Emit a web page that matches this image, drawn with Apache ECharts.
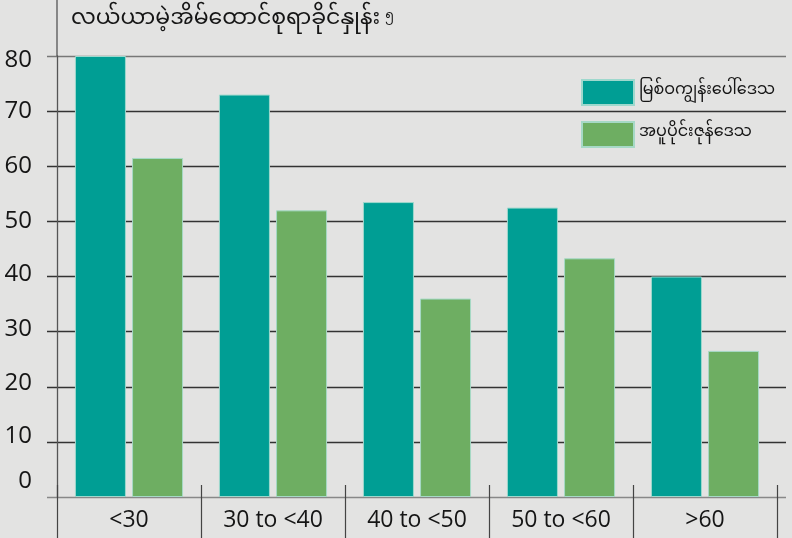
<!DOCTYPE html>
<html><head><meta charset="utf-8">
<script src="https://cdn.jsdelivr.net/npm/echarts@6/dist/echarts.min.js"></script>
<style>html,body{margin:0;padding:0;background:#e3e3e2}#c{width:792px;height:538px}</style>
</head><body><div id="c"></div>
<script>
const categories = ['<30', '30 to <40', '40 to <50', '50 to <60', '>60'];
const seriesNames = ['မြစ်ဝကျွန်းပေါ်ဒေသ', 'အပူပိုင်းဇုန်ဒေသ'];
const deltaValues = [80, 73, 53.5, 52.5, 40];
const dryZoneValues = [61.5, 52, 36, 43.3, 26.5];
const titleText = 'လယ်ယာမဲ့အိမ်ထောင်စုရာခိုင်နှုန်း';
const footnote = '၅';
const yMin = 0, yMax = 80, yStep = 10;

const FONT = '"Noto Sans Myanmar", "Myanmar Text", Padauk, "Noto Sans", "DejaVu Sans", sans-serif';
const NUMFONT = '"Open Sans", "Noto Sans", sans-serif';
const labelShift = {0: 32, 10: 12, 20: 8, 30: 4, 40: 4, 50: 0, 60: 0, 70: 0, 80: 0};

const chart = echarts.init(document.getElementById('c'), null, {renderer: 'canvas'});
const rich = {};
Object.keys(labelShift).forEach(k => {
  const s = labelShift[k];
  rich['v' + k] = {fontSize: 24, color: '#151515', fontFamily: NUMFONT,
    padding: [0, 0, s, 0]};
});
rich.v80.padding = [8, 0, 0, 0];

chart.setOption({
  backgroundColor: '#e3e3e2',
  animation: false,
  title: {
    text: '{t|' + titleText + '} {f|' + footnote + '}',
    left: 66, top: 6,
    textStyle: {
      fontWeight: 'normal',
      rich: {
        t: {fontSize: 22, fontWeight: 'normal', color: '#151515', fontFamily: FONT},
        f: {fontSize: 13, fontWeight: 'normal', color: '#151515', fontFamily: FONT, padding: [0, 0, 8, 0]}
      }
    }
  },
  legend: {
    orient: 'vertical', left: 576, top: 74,
    itemWidth: 52, itemHeight: 25, itemGap: 15,
    icon: 'rect',
    textStyle: {fontSize: 16, color: '#151515', fontFamily: FONT},
    data: seriesNames
  },
  grid: [
    {left: 47, right: 6, top: 56, bottom: 41},
    {left: 57, right: 15, top: 56, bottom: 41}
  ],
  xAxis: [
    {gridIndex: 0, type: 'value', show: false, min: 0, max: 1},
    {gridIndex: 1, type: 'category', data: categories,
      axisLine: {show: false},
      axisTick: {show: true, interval: 0, length: 41, lineStyle: {color: '#444', width: 1.2}},
      axisLabel: {interval: 0, margin: 12, fontSize: 23, color: '#151515', fontFamily: '"Liberation Sans Narrow", "Open Sans", sans-serif'}
    },
    {gridIndex: 1, type: 'category', data: categories, position: 'bottom',
      axisLine: {show: false},
      axisTick: {show: true, inside: true, interval: 0, length: 12, lineStyle: {color: '#444', width: 1.2}},
      axisLabel: {show: false}
    }
  ],
  yAxis: [
    {gridIndex: 0, type: 'value', min: yMin, max: yMax, interval: yStep,
      axisLine: {show: false}, axisTick: {show: false},
      splitLine: {show: true, lineStyle: {color: ['#888', '#333', '#333', '#333', '#333', '#333', '#333', '#333', '#777'], width: 1.4}},
      axisLabel: {margin: 15, formatter: v => '{v' + v + '|' + v + '}', rich: rich}
    },
    {gridIndex: 1, type: 'value', min: yMin, max: yMax, interval: yStep,
      axisLine: {show: true, lineStyle: {color: '#555', width: 1.3}},
      axisTick: {show: false}, splitLine: {show: false}, axisLabel: {show: false}
    }
  ],
  graphic: [{
    type: 'line', z: 5,
    shape: {x1: 57, y1: 0, x2: 57, y2: 56},
    style: {stroke: '#555', lineWidth: 1.3}
  }],
  series: [
    {name: seriesNames[0], type: 'bar', xAxisIndex: 1, yAxisIndex: 1, data: deltaValues,
      barWidth: 51, barGap: '12%',
      itemStyle: {color: '#009e94', borderColor: '#9ed8cd', borderWidth: 1}},
    {name: seriesNames[1], type: 'bar', xAxisIndex: 1, yAxisIndex: 1, data: dryZoneValues,
      barWidth: 51, barGap: '12%',
      itemStyle: {color: '#6eae62', borderColor: '#a6d9c6', borderWidth: 1}}
  ]
});
</script></body></html>
